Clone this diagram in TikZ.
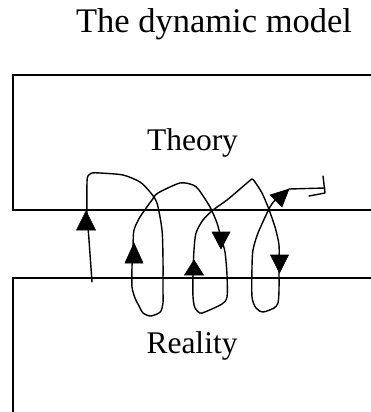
\documentclass[tikz,border=0pt]{standalone}
\usepackage{fontspec}
\setmainfont{Liberation Serif}
\begin{document}
\begin{tikzpicture}[x=1pt,y=-1pt,
  boxline/.style={line width=1.8pt,line cap=butt},
  curve/.style={line width=1.4pt,line join=round,line cap=round},
  head/.style={fill=black,draw=black,line width=0.6pt,line join=miter},
  lbl/.style={anchor=base,inner sep=0pt}]
\useasboundingbox (0,0) rectangle (370,412);
\node[lbl,font=\fontsize{34.5}{40}\selectfont] (title) at (214,33) {The dynamic model};
\node[lbl,font=\fontsize{31.5}{38}\selectfont] (theory) at (192.5,150) {Theory};
\node[lbl,font=\fontsize{31.5}{38}\selectfont] (reality) at (192,353) {Reality};
% boxes
\draw[boxline] (371,75) -- (13,75) -- (13,210) -- (371,210);
\draw[boxline] (371,278) -- (13,278) -- (13,413);
% the spiral
\draw[curve] plot[smooth,tension=0.45] coordinates {
 (92,282) (89,240) (87,212) (87,182) (88,176) (92,173) (100,173) (123,175) (140,182) (150,192) (157,203) (162,230) (163,260) (163,290) (163,303) (161,311) (157,314) (150,316) (143,313) (139,306) (135,298) (132,287) (132,267) (133,245) (134,230) (140,217) (152,200) (158,193) (180,183) (193,185) (199,190) (210,207) (217,223) (221,238) (225,252) (227,275) (227,297) (222,304) (205,312) (200,313) (195,308) (193,297) (193,273) (194,250) (196,233) (203,220) (213,210) (227,200) (247,183) (252,179) (255,182) (262,193) (268,207) (275,227) (279,245) (279,265) (279,290) (278,303) (274,308) (263,312) (256,308) (252,297) (252,267) (253,250) (258,233) (270,207) (277,198) (283,193)};
% arrowheads
\fill[head] (86,211) -- (76.5,230) -- (95.5,230) -- cycle;
\fill[head] (134,243) -- (125,263) -- (143,263) -- cycle;
\fill[head] (221,249) -- (212,232) -- (230,232) -- cycle;
\fill[head] (194,260) -- (184.5,275) -- (203.5,275) -- cycle;
\fill[head] (279.5,273) -- (270.5,255) -- (288.5,255) -- cycle;
\fill[head] (289,189) -- (270,195) -- (282,207) -- cycle;
% exit line and hook
\draw[curve] (289,189) -- (325,188);
\draw[curve] (323,176) -- (325,193) -- (309,196);
\end{tikzpicture}
\end{document}
